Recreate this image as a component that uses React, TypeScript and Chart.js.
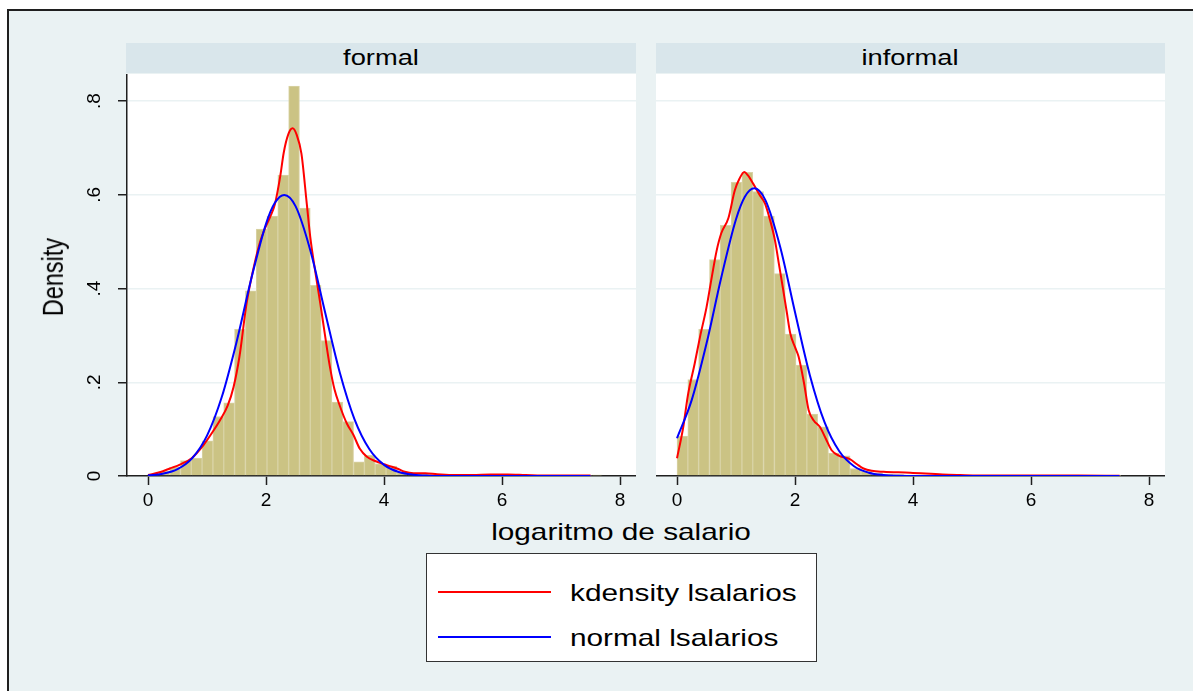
import React, { useEffect, useRef } from "react";
import { Chart, registerables } from "chart.js";

Chart.register(...registerables);

// ---------- data ----------
const panelTitles = ["formal", "informal"];
const xAxisTitle = "logaritmo de salario";
const yAxisTitle = "Density";
const legendLabels = ["kdensity lsalarios", "normal lsalarios"];

const xTickValues = [0, 2, 4, 6, 8];
const yTickValues = [0, 0.2, 0.4, 0.6, 0.8];
const yTickLabels = ["0", ".2", ".4", ".6", ".8"];

// histogram bin centres (bin width ~0.1833, starting at 0)
const binCenters = [
  0.092, 0.275, 0.458, 0.642, 0.825, 1.008, 1.192, 1.375, 1.558, 1.742,
  1.925, 2.108, 2.292, 2.475, 2.658, 2.842, 3.025, 3.208, 3.392, 3.575,
  3.758, 3.942, 4.125, 4.308, 4.492, 4.675, 4.858, 5.042, 5.225, 5.408,
  5.592, 5.775, 5.958, 6.142, 6.325, 6.508, 6.692, 6.875, 7.058, 7.242,
  7.425, 7.608,
];

const formalHist = [
  0.004, 0.010, 0.019, 0.033, 0.038, 0.075, 0.127, 0.156, 0.313, 0.395,
  0.527, 0.555, 0.642, 0.832, 0.572, 0.407, 0.289, 0.158, 0.116, 0.030,
  0.044, 0.026, 0.021, 0.009, 0.005, 0.004, 0.003, 0.002, 0.001, 0.001,
  0.002, 0.003, 0.003, 0.002, 0.001, 0.001, 0.001, 0.001, 0.001, 0.001,
  0.001, 0.002,
];

const informalHist = [
  0.085, 0.206, 0.313, 0.462, 0.535, 0.627, 0.648, 0.607, 0.555, 0.432,
  0.303, 0.237, 0.132, 0.105, 0.049, 0.043, 0.016, 0.010, 0.006, 0.004,
  0.003, 0.002, 0.002, 0.002, 0.001, 0.001, 0.001, 0.001, 0.001, 0.001,
  0.0005, 0.0005, 0.0005, 0.0005, 0.0005, 0.0005, 0.0005, 0.0005, 0.0005, 0.0005,
  0.0005, 0,
];

const formalKdeX = [
  0, 0.2, 0.37, 0.55, 0.74, 0.94, 1.1, 1.22, 1.35, 1.45,
  1.55, 1.67, 1.8, 1.9, 1.97, 2.07, 2.15, 2.24, 2.3, 2.38,
  2.45, 2.52, 2.6, 2.69, 2.75, 2.83, 2.92, 3.0, 3.08, 3.16,
  3.25, 3.37, 3.48, 3.59, 3.71, 3.85, 4.0, 4.1, 4.22, 4.35,
  4.5, 4.7, 4.9, 5.2, 5.5, 5.8, 6.1, 6.4, 6.8, 7.2, 7.5,
];
const formalKdeY = [
  0.002, 0.008, 0.016, 0.025, 0.038, 0.066, 0.095, 0.119, 0.150, 0.190,
  0.255, 0.368, 0.450, 0.500, 0.525, 0.553, 0.580, 0.639, 0.690, 0.730,
  0.742, 0.728, 0.688, 0.582, 0.510, 0.440, 0.368, 0.300, 0.235, 0.185,
  0.150, 0.112, 0.088, 0.058, 0.041, 0.032, 0.025, 0.021, 0.016, 0.009,
  0.006, 0.006, 0.004, 0.002, 0.002, 0.003, 0.003, 0.002, 0.001, 0.001, 0.001,
];

const formalNormX = [
  0, 0.25, 0.5, 0.75, 1.0, 1.25, 1.5, 1.75, 2.0, 2.15,
  2.31, 2.5, 2.75, 3.0, 3.25, 3.5, 3.75, 4.0, 4.25, 4.5,
  4.75, 5.0, 5.5, 6.0, 6.5, 7.0, 7.5,
];
const formalNormY = [
  0.0014, 0.005, 0.0148, 0.0383, 0.0862, 0.1685, 0.2857, 0.4209, 0.5382, 0.583,
  0.6, 0.576, 0.482, 0.3502, 0.2209, 0.121, 0.0576, 0.0238, 0.0085, 0.0027,
  0.0007, 0.0002, 0, 0, 0, 0, 0,
];

const informalKdeX = [
  0, 0.1, 0.19, 0.3, 0.39, 0.5, 0.59, 0.67, 0.75, 0.87,
  0.98, 1.06, 1.14, 1.2, 1.29, 1.4, 1.49, 1.58, 1.66, 1.73,
  1.8, 1.86, 1.92, 2.0, 2.06, 2.15, 2.23, 2.32, 2.42, 2.52,
  2.62, 2.75, 2.93, 3.05, 3.16, 3.3, 3.5, 3.95, 4.5, 4.8,
  5.3, 6.0, 6.8, 7.5,
];
const informalKdeY = [
  0.038, 0.10, 0.176, 0.24, 0.297, 0.36, 0.425, 0.48, 0.518, 0.55,
  0.61, 0.635, 0.649, 0.642, 0.624, 0.60, 0.582, 0.545, 0.503, 0.45,
  0.397, 0.35, 0.304, 0.275, 0.255, 0.2, 0.141, 0.118, 0.105, 0.08,
  0.055, 0.043, 0.036, 0.025, 0.016, 0.011, 0.009, 0.007, 0.003, 0.002,
  0.001, 0.001, 0.001, 0.0005,
];

const informalNormX = [
  0, 0.25, 0.5, 0.75, 1.0, 1.15, 1.31, 1.5, 1.75, 2.0,
  2.25, 2.5, 2.75, 3.0, 3.25, 3.5, 3.75, 4.0, 4.5, 5.0,
  6.0, 7.0, 7.5,
];
const informalNormY = [
  0.0806, 0.1624, 0.2826, 0.4237, 0.548, 0.596, 0.614, 0.5883, 0.4883, 0.3496,
  0.2158, 0.1149, 0.0528, 0.0209, 0.0071, 0.0021, 0.0005, 0.0001, 0, 0,
  0, 0, 0,
];

// ---------- styles ----------
const FONT = "'Liberation Sans', Arial, Helvetica, sans-serif";
const FRAME_BG = "#EAF2F3";
const STRIP_BG = "#D9E6EB";
const BAR_FILL = "#CBC384";
const BAR_EDGE = "#D9D3A6";
const RED = "#FF0000";
const BLUE = "#0000FF";
const AXIS = "#1f1f1f";

const plotBg = {
  id: "plotBg",
  beforeDraw(chart: any) {
    const { ctx, chartArea: a } = chart;
    ctx.save();
    ctx.fillStyle = "#ffffff";
    ctx.fillRect(a.left, a.top, a.right - a.left, a.bottom - a.top);
    ctx.restore();
  },
};

type PanelProps = {
  hist: number[];
  kdeX: number[];
  kdeY: number[];
  normX: number[];
  normY: number[];
  showY: boolean;
  left: number;
  width: number;
};

function Panel({ hist, kdeX, kdeY, normX, normY, showY, left, width }: PanelProps) {
  const ref = useRef<HTMLCanvasElement | null>(null);
  const yAxisWidth = showY ? 67 : 0;
  useEffect(() => {
    if (!ref.current) return;
    const chart = new Chart(ref.current, {
      type: "bar",
      data: {
        datasets: [
          {
            type: "line",
            data: normX.map((x, i) => ({ x, y: normY[i] })),
            borderColor: BLUE,
            borderWidth: 2,
            pointRadius: 0,
            fill: false,
            cubicInterpolationMode: "monotone",
            order: 1,
          } as any,
          {
            type: "line",
            data: kdeX.map((x, i) => ({ x, y: kdeY[i] })),
            borderColor: RED,
            borderWidth: 2,
            pointRadius: 0,
            fill: false,
            cubicInterpolationMode: "monotone",
            order: 2,
          } as any,
          {
            type: "bar",
            data: binCenters.map((x, i) => ({ x, y: hist[i] })),
            backgroundColor: BAR_FILL,
            borderColor: BAR_EDGE,
            borderWidth: 1,
            barPercentage: 1,
            categoryPercentage: 1,
            order: 3,
          } as any,
        ],
      },
      options: {
        animation: false,
        responsive: false,
        maintainAspectRatio: false,
        layout: { padding: 0 },
        plugins: { legend: { display: false }, tooltip: { enabled: false } },
        scales: {
          x: {
            type: "linear",
            min: -0.356,
            max: 8.27,
            offset: false,
            afterBuildTicks: (s: any) => {
              s.ticks = xTickValues.map((v) => ({ value: v }));
            },
            afterFit: (s: any) => {
              s.height = 38;
              s.paddingLeft = 0;
              s.paddingRight = 0;
            },
            grid: {
              drawOnChartArea: false,
              drawTicks: true,
              tickLength: 9,
              tickColor: AXIS,
              tickWidth: 1.5,
              offset: false,
            },
            border: { display: true, color: AXIS, width: 1.5 },
            ticks: {
              color: "#000",
              font: { family: FONT, size: 19 },
              padding: 4,
              maxRotation: 0,
              autoSkip: false,
            },
          },
          y: {
            type: "linear",
            min: 0,
            max: 0.858,
            afterBuildTicks: (s: any) => {
              s.ticks = yTickValues.map((v) => ({ value: v }));
            },
            afterFit: (s: any) => {
              s.width = yAxisWidth;
              s.paddingTop = 0;
              s.paddingBottom = 0;
            },
            grid: {
              drawOnChartArea: true,
              color: FRAME_BG,
              lineWidth: 1.5,
              drawTicks: showY,
              tickLength: showY ? 9 : 0,
              tickColor: AXIS,
              tickWidth: 1.5,
            },
            border: { display: showY, color: AXIS, width: 1.5 },
            ticks: {
              display: showY,
              color: "#000",
              font: { family: FONT, size: 19 },
              minRotation: 90,
              maxRotation: 90,
              crossAlign: "center",
              padding: 15,
              autoSkip: false,
              callback: (v: any) => {
                const idx = yTickValues.findIndex((t) => Math.abs(t - Number(v)) < 1e-6);
                return idx >= 0 ? yTickLabels[idx] : "";
              },
            },
          },
        },
      } as any,
      plugins: [plotBg],
    });
    return () => chart.destroy();
  }, []);

  return (
    <canvas
      ref={ref}
      width={width}
      height={440}
      style={{ position: "absolute", left, top: 74, width, height: 440 }}
    />
  );
}

const textBase: React.CSSProperties = {
  position: "absolute",
  fontFamily: FONT,
  color: "#000",
  whiteSpace: "nowrap",
};

export default function App() {
  return (
    <div
      style={{
        position: "absolute",
        left: 0,
        top: 0,
        width: 1193,
        height: 691,
        overflow: "hidden",
        background: "#ffffff",
      }}
    >
      {/* outer graph frame */}
      <div
        style={{
          position: "absolute",
          left: 7,
          top: 9,
          width: 1200,
          height: 700,
          background: FRAME_BG,
          borderLeft: `2px solid ${AXIS}`,
          borderTop: `2px solid ${AXIS}`,
        }}
      />

      {/* strip headers */}
      <div style={{ position: "absolute", left: 126, top: 43, width: 510, height: 30, background: STRIP_BG }} />
      <div style={{ position: "absolute", left: 656, top: 43, width: 509, height: 30, background: STRIP_BG }} />
      <div
        style={{
          ...textBase,
          left: 381,
          top: 58,
          fontSize: 22,
          lineHeight: "22px",
          transform: "translate(-50%, -50%) scaleX(1.24)",
        }}
      >
        {panelTitles[0]}
      </div>
      <div
        style={{
          ...textBase,
          left: 910,
          top: 58,
          fontSize: 22,
          lineHeight: "22px",
          transform: "translate(-50%, -50%) scaleX(1.24)",
        }}
      >
        {panelTitles[1]}
      </div>

      {/* panels */}
      <Panel
        hist={formalHist}
        kdeX={formalKdeX}
        kdeY={formalKdeY}
        normX={formalNormX}
        normY={formalNormY}
        showY={true}
        left={60}
        width={576}
      />
      <Panel
        hist={informalHist}
        kdeX={informalKdeX}
        kdeY={informalKdeY}
        normX={informalNormX}
        normY={informalNormY}
        showY={false}
        left={656}
        width={509}
      />

      {/* y axis title */}
      <div
        style={{
          ...textBase,
          left: 53,
          top: 277,
          fontSize: 23.5,
          lineHeight: "24px",
          transform: "translate(-50%, -50%) rotate(-90deg) scaleY(1.24)",
        }}
      >
        {yAxisTitle}
      </div>

      {/* x axis title */}
      <div
        style={{
          ...textBase,
          left: 621,
          top: 532,
          fontSize: 24,
          lineHeight: "24px",
          transform: "translate(-50%, -50%) scaleX(1.24)",
        }}
      >
        {xAxisTitle}
      </div>

      {/* legend */}
      <div
        style={{
          position: "absolute",
          left: 426,
          top: 553,
          width: 389,
          height: 107,
          background: "#ffffff",
          border: "1.5px solid #333",
        }}
      />
      <div style={{ position: "absolute", left: 438, top: 591, width: 113, height: 2, background: RED }} />
      <div style={{ position: "absolute", left: 438, top: 636, width: 113, height: 2, background: BLUE }} />
      <div
        style={{
          ...textBase,
          left: 570,
          top: 581,
          fontSize: 24,
          lineHeight: "24px",
          transformOrigin: "left center",
          transform: "scaleX(1.24)",
        }}
      >
        {legendLabels[0]}
      </div>
      <div
        style={{
          ...textBase,
          left: 570,
          top: 626,
          fontSize: 24,
          lineHeight: "24px",
          transformOrigin: "left center",
          transform: "scaleX(1.24)",
        }}
      >
        {legendLabels[1]}
      </div>
    </div>
  );
}
